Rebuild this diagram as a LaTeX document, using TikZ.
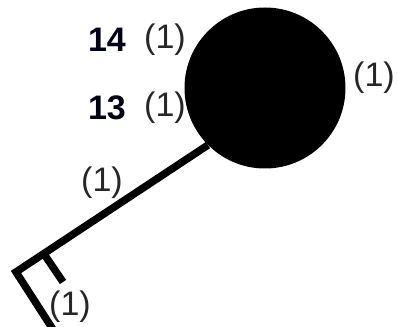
\documentclass[tikz,border=0pt]{standalone}
\usepackage{fontspec}
\setmainfont{Liberation Sans}
\usetikzlibrary{positioning}

\begin{document}
\begin{tikzpicture}[x=1pt,y=1pt,
  hub/.style={circle,fill=black,draw=none,minimum size=161pt,inner sep=0pt},
  branch/.style={line width=7.5pt,black,line cap=butt,line join=miter},
  mult/.style={font=\fontsize{34}{36}\selectfont,inner sep=0pt,text=black!85},
  tag/.style={font=\fontsize{34}{36}\selectfont\bfseries,inner sep=0pt,text=black!92!blue}
]
\useasboundingbox (0,0) rectangle (397,327);
\node[hub] (hub) at (265,239) {};
\coordinate (bend) at (16,55);
\coordinate (tail) at (54,-4);
\coordinate (tickA) at (44,73);
\coordinate (tickB) at (63,45);
% stem from the disc
\begin{scope}
\clip (0,0) rectangle (397,327);
\draw[branch] (hub.225) -- (bend) -- (tail);
\end{scope}
\draw[branch] (tickA) -- (tickB);
% labels
\node[tag] (t14) at (107,287) {14};
\node[mult] (m14) at (165,287) {(1)};
\node[tag] (t13) at (107,219) {13};
\node[mult] (m13) at (165,219) {(1)};
\node[mult] (mhub) at (374,249) {(1)};
\node[mult] (mstem) at (102,144) {(1)};
\node[mult] (mtail) at (70,20) {(1)};
\end{tikzpicture}
\end{document}
